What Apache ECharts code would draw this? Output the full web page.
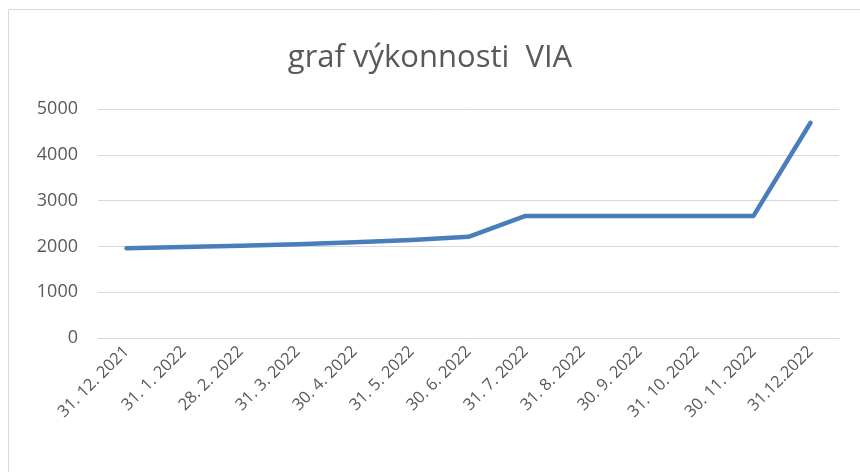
<!DOCTYPE html>
<html>
<head>
<meta charset="utf-8">
<script src="https://cdn.jsdelivr.net/npm/echarts@6/dist/echarts.min.js"></script>
<style>
html,body{margin:0;padding:0;background:#fff;}
#chart{width:860px;height:472px;}
</style>
</head>
<body>
<div id="chart"></div>
<script>
const titleText = 'graf výkonnosti  VIA';
const categories = ['31. 12. 2021','31. 1. 2022','28. 2. 2022','31. 3. 2022','30. 4. 2022','31. 5. 2022','30. 6. 2022','31. 7. 2022','31. 8. 2022','30. 9. 2022','31. 10. 2022','30. 11. 2022','31.12.2022'];
const values = [1960, 1985, 2015, 2045, 2090, 2140, 2210, 2665, 2665, 2665, 2665, 2665, 4700];
const yMin = 0, yMax = 5000, yInterval = 1000;

const chart = echarts.init(document.getElementById('chart'), null, {renderer:'canvas'});
chart.setOption({
  animation: false,
  backgroundColor: '#ffffff',
  graphic: [{
    type: 'rect',
    shape: {x: 8.5, y: 9.5, width: 900, height: 600},
    style: {fill: 'none', stroke: '#d9d9d9', lineWidth: 1},
    silent: true
  }],
  title: {
    text: titleText,
    left: 'center',
    top: 38,
    textStyle: {fontFamily: 'Open Sans', fontSize: 31, fontWeight: 'normal', color: '#595959'}
  },
  grid: {left: 98, right: 21, top: 109, bottom: 134, containLabel: false},
  xAxis: {
    type: 'category',
    data: categories,
    boundaryGap: true,
    axisLine: {show: true, lineStyle: {color: '#d9d9d9', width: 1}},
    axisTick: {show: false},
    axisLabel: {rotate: 45, interval: 0, margin: 11, color: '#595959', fontFamily: 'Open Sans', fontSize: 16.5}
  },
  yAxis: {
    type: 'value',
    min: yMin, max: yMax, interval: yInterval,
    axisLine: {show: false},
    axisTick: {show: false},
    axisLabel: {color: '#595959', fontFamily: 'Open Sans', fontSize: 18, margin: 20, formatter: function (v) { return String(v); }},
    splitLine: {lineStyle: {color: '#d9d9d9', width: 1}}
  },
  series: [{
    type: 'line',
    data: values,
    symbol: 'none',
    lineStyle: {color: '#4a7ebb', width: 4.5, cap: 'round', join: 'round'},
    itemStyle: {color: '#4a7ebb'}
  }]
});
</script>
</body>
</html>
